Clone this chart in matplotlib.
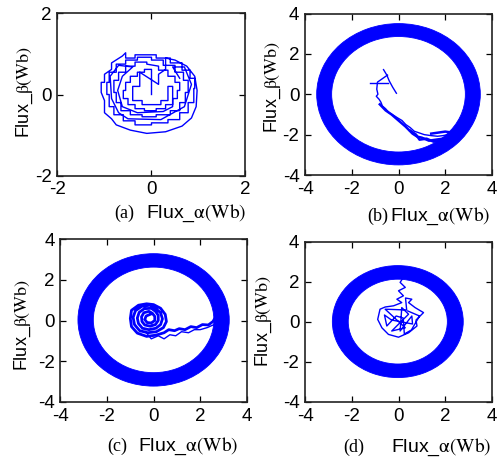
import matplotlib
matplotlib.use('Agg')
from matplotlib import pyplot as plt
from matplotlib.patches import Annulus
import numpy as np

plt.rcParams['font.family'] = ['Liberation Sans', 'DejaVu Sans']
plt.rcParams['mathtext.fontset'] = 'stix'
plt.rcParams['axes.unicode_minus'] = False

################ panel (a): flux trajectory (no steady ring) ################
flux_a = np.array([
    (0, 0), (0, 0.62), (-0.15, 0.62), (-0.15, 0.55), (-0.3, 0.55), (-0.3, 0.45), (-0.45, 0.45),
    (-0.45, 0.3), (-0.55, 0.3), (-0.55, 0.1), (-0.6, 0.1), (-0.6, -0.1), (-0.5, -0.1), (-0.5, -0.25),
    (-0.35, -0.25), (-0.35, -0.35), (-0.15, -0.35), (-0.15, -0.4), (0.1, -0.4), (0.1, -0.35),
    (0.3, -0.35), (0.3, -0.25), (0.45, -0.25), (0.45, -0.1), (0.55, -0.1), (0.55, 0.1), (0.6, 0.1),
    (0.6, 0.3), (0.5, 0.3), (0.5, 0.45), (0.35, 0.45), (0.35, 0.6), (0.15, 0.6), (0.15, 0.7),
    (-0.1, 0.75), (-0.1, 0.8), (-0.35, 0.8), (-0.35, 0.7), (-0.55, 0.7), (-0.55, 0.55), (-0.7, 0.55),
    (-0.7, 0.35), (-0.8, 0.35), (-0.8, 0.05), (-0.75, 0.05), (-0.75, -0.2), (-0.65, -0.2),
    (-0.65, -0.4), (-0.45, -0.4), (-0.45, -0.5), (-0.2, -0.5), (-0.2, -0.55), (0.1, -0.55),
    (0.1, -0.5), (0.4, -0.5), (0.4, -0.4), (0.6, -0.4), (0.6, -0.2), (0.72, -0.2), (0.72, 0.05),
    (0.78, 0.05), (0.78, 0.35), (0.68, 0.35), (0.68, 0.55), (0.5, 0.55), (0.5, 0.72), (0.25, 0.72),
    (0.25, 0.85), (0, 0.85), (0, 0.92), (-0.3, 0.92), (-0.3, 0.85), (-0.55, 0.85), (-0.55, 0.75),
    (-0.75, 0.75), (-0.75, 0.55), (-0.9, 0.55), (-0.9, 0.3), (-0.95, 0.3), (-0.95, 0.0), (-0.9, 0.0),
    (-0.9, -0.3), (-0.8, -0.3), (-0.8, -0.5), (-0.6, -0.5), (-0.6, -0.65), (-0.35, -0.65),
    (-0.35, -0.75), (0.0, -0.75), (0.0, -0.7), (0.35, -0.7), (0.35, -0.62), (0.6, -0.62),
    (0.6, -0.45), (0.78, -0.45), (0.78, -0.2), (0.9, -0.2), (0.9, 0.15), (0.92, 0.15), (0.92, 0.4),
    (0.82, 0.4), (0.82, 0.6), (0.65, 0.6), (0.65, 0.78), (0.4, 0.78), (0.4, 0.9), (0.1, 0.9),
    (0.1, 0.98), (-0.35, 0.98), (-0.35, 0.9), (-0.55, 0.9), (-0.55, 1.03), (-0.62, 0.95),
    (-0.85, 0.78), (-0.85, 0.62), (-1.0, 0.5), (-1.0, 0.3), (-1.07, 0.3), (-1.07, 0.05),
    (-1.0, -0.15), (-1.0, -0.45), (-0.85, -0.6), (-0.75, -0.75), (-0.45, -0.88), (-0.1, -0.96),
    (0.3, -0.92), (0.65, -0.78), (0.85, -0.58), (0.95, -0.3), (0.97, 0.1), (0.92, 0.45),
    (0.75, 0.7), (0.5, 0.85), (0.3, 0.9), (0.3, 0.62), (0.15, 0.5), (0.15, 0.25),
    (-0.25, 0.55), (-0.25, 0.2), (-0.4, 0.2), (-0.4, -0.15), (-0.2, -0.15), (-0.2, -0.25),
    (0.2, -0.25), (0.2, -0.15), (0.35, -0.15), (0.35, 0.2), (0.45, 0.2), (0.45, -0.3),
    (0.25, -0.42), (-0.3, -0.45), (-0.62, -0.3), (-0.72, 0.1), (-0.62, 0.45), (-0.4, 0.68),
    (-0.7, 0.72), (-0.88, 0.45), (-0.85, -0.1), (-0.7, -0.45), (-0.5, -0.6), (0.2, -0.62),
    (0.7, -0.3), (0.85, 0.25), (0.7, 0.68), (0.45, 0.68), (0.6, 0.4),
])

################ panel (b): ring plus start-up transient ################
ring_b = dict(center=(0.0, 0.0), outer=3.5, width=0.64)
flux_b_paths = [
    [(-0.09, 0.05), (-0.25, 0.35), (-0.4, 0.67), (-0.5, 0.95), (-0.64, 1.22)],
    [(-1.21, 0.58), (-0.47, 0.58)],
    [(-0.47, 0.95), (-0.9, 0.6), (-0.93, 0.25), (-0.88, 0.0), (-0.95, -0.1), (-0.83, -0.25),
     (-0.75, -0.4), (-0.69, -0.58), (-0.55, -0.72), (-0.4, -0.92), (-0.2, -1.05), (-0.04, -1.17),
     (0.15, -1.3), (0.31, -1.5), (0.5, -1.65), (0.67, -1.83), (0.85, -1.9), (1.1, -2.0),
     (1.4, -2.05), (1.67, -2.08), (1.9, -2.05), (2.1, -2.0), (2.4, -2.1)],
    [(-0.8, -0.5), (-0.55, -0.8), (-0.3, -1.0), (0.0, -1.3), (0.3, -1.6), (0.6, -1.95),
     (0.8, -2.1), (1.0, -2.15), (1.3, -2.3), (1.6, -2.25), (1.9, -2.2), (2.2, -2.25)],
    [(0.5, -1.8), (0.75, -2.0), (0.9, -2.25), (1.2, -2.2), (1.5, -2.35), (1.85, -2.3),
     (2.1, -2.35), (2.4, -2.3)],
    [(1.4, -1.95), (1.7, -1.9), (2.0, -1.85), (2.3, -1.9), (2.6, -2.0)],
]

################ panel (c): ring plus spiral transient ################
ring_c = dict(center=(0.0, 0.03), outer=3.25, width=0.66)
flux_c = np.array([
    (-0.15, 0.3), (-0.32, 0.22), (-0.38, 0.05), (-0.28, -0.1), (-0.1, -0.12), (0.05, 0.0),
    (0.05, 0.2), (-0.05, 0.35), (-0.2, 0.45), (-0.42, 0.38), (-0.52, 0.18), (-0.5, -0.05),
    (-0.38, -0.22), (-0.15, -0.28), (0.08, -0.2), (0.2, 0.0), (0.2, 0.25), (0.08, 0.45),
    (-0.1, 0.6), (-0.4, 0.58), (-0.62, 0.4), (-0.7, 0.12), (-0.65, -0.15), (-0.48, -0.38),
    (-0.2, -0.45), (0.1, -0.38), (0.3, -0.2), (0.38, 0.08), (0.3, 0.38), (0.1, 0.58),
    (-0.15, 0.75), (-0.5, 0.7), (-0.78, 0.48), (-0.88, 0.15), (-0.82, -0.2), (-0.6, -0.5),
    (-0.25, -0.6), (0.12, -0.55), (0.42, -0.35), (0.55, -0.05), (0.5, 0.3), (0.3, 0.6),
    (0.0, 0.78), (-0.3, 0.82), (-0.65, 0.75), (-0.95, 0.5), (-1.0, 0.1), (-0.95, -0.3),
    (-0.7, -0.62), (-0.3, -0.78), (0.1, -0.72), (0.45, -0.6), (0.65, -0.45), (0.9, -0.5),
    (1.1, -0.4), (1.35, -0.45), (1.6, -0.3), (1.85, -0.35), (2.1, -0.2), (2.35, -0.22),
    (2.55, -0.05), (2.65, 0.15),
])
flux_c_tail = np.array([
    (-0.3, -0.62), (-0.1, -0.9), (0.2, -0.75), (0.45, -0.9), (0.7, -0.7), (0.95, -0.75),
    (1.2, -0.55), (1.5, -0.6), (1.75, -0.45), (2.0, -0.45), (2.3, -0.35), (2.6, -0.2),
])

################ panel (d): ring plus tangled transient ################
ring_d = dict(center=(-0.03, 0.02), outer=2.8, width=0.68)
flux_d = np.array([
    (0.07, 2.74), (0.21, 2.24), (0.07, 1.98), (0.29, 1.73), (0.0, 1.56), (0.21, 1.31),
    (-0.07, 1.14), (0.14, 0.97), (-0.21, 0.81), (-0.57, 0.75), (-0.79, 0.64), (-0.89, 0.13),
    (-0.71, -0.29), (-0.43, -0.62), (0.0, -0.76), (0.43, -0.54), (0.79, -0.2), (0.75, 0.1),
    (1.07, 0.47), (0.71, 0.72), (0.43, 0.97), (0.57, 1.14), (0.3, 1.2), (0.35, 0.6),
    (-0.57, 0.64), (0.29, -0.29), (-0.29, -0.45), (0.43, 0.39), (0.14, 0.72), (0.07, -0.45),
    (0.57, 0.3), (0.6, -0.1), (-0.3, 0.1), (-0.6, 0.35), (-0.5, -0.2), (-0.1, 0.3),
    (0.2, 0.2), (0.25, -0.6), (0.55, -0.4), (0.9, 0.3), (0.4, 0.55),
])

################ labels ################
tick_a = [-2, 0, 2]
tick_bcd = [-4, -2, 0, 2, 4]
panel_tags = ['(a)', '(b)', '(c)', '(d)']
xlabel = r'Flux_$\mathrm{\alpha(Wb)}$'
ylabel = r'Flux_$\mathrm{\beta(Wb)}$'

blue = '#0000ff'
W, H = 502, 459
tick_size = 13.5
xlabel_size = 14
ylabel_size = 13

f = plt.figure(figsize=(W / 100, H / 100), dpi=100)


def px_axes(left, top, right, bottom):
    return f.add_axes([left / W, 1 - bottom / H, (right - left) / W, (bottom - top) / H])


def style(ax, ticks):
    ax.set_xlim(ticks[0], ticks[-1])
    ax.set_ylim(ticks[0], ticks[-1])
    ax.set_xticks(ticks)
    ax.set_yticks(ticks)
    ax.tick_params(direction='in', top=True, right=True, length=4, width=0.9,
                   labelsize=tick_size, pad=4)
    for s in ax.spines.values():
        s.set_linewidth(1.2)
        s.set_color('#222222')


def ring(ax, r):
    ax.add_patch(Annulus(r['center'], r['outer'], r['width'], facecolor=blue,
                         edgecolor=blue, linewidth=0.6))


ax_a = px_axes(57.5, 13.5, 245.5, 175.5)
ax_b = px_axes(305, 13.5, 492, 175)
ax_c = px_axes(60.5, 239, 246.7, 402)
ax_d = px_axes(305, 242, 492, 402)

ax_a.plot(flux_a[:, 0], flux_a[:, 1], color=blue, lw=1.0)
style(ax_a, tick_a)

ring(ax_b, ring_b)
for i, p in enumerate(flux_b_paths):
    p = np.array(p)
    ax_b.plot(p[:, 0], p[:, 1], color=blue, lw=1.0 if i < 3 else 1.8)
style(ax_b, tick_bcd)

ring(ax_c, ring_c)
ax_c.plot(flux_c[:, 0], flux_c[:, 1], color=blue, lw=2.0)
ax_c.plot(flux_c_tail[:, 0], flux_c_tail[:, 1], color=blue, lw=1.0)
style(ax_c, tick_bcd)

ring(ax_d, ring_d)
ax_d.plot(flux_d[:, 0], flux_d[:, 1], color=blue, lw=1.0)
style(ax_d, tick_bcd)

# y labels, rotated, centred at pixel positions
for (x, y) in [(25, 92), (273, 87), (23, 325), (264, 321)]:
    f.text(x / W, 1 - y / H, ylabel, rotation=90, ha='center', va='center',
           fontsize=ylabel_size)

# x labels with panel tags
for tag, (tx, fx, y) in zip(panel_tags, [(114, 146, 213), (367, 390, 216),
                                         (107, 138, 446), (343, 391, 447)]):
    f.text(tx / W, 1 - y / H, tag, ha='left', va='center', fontsize=ylabel_size,
           family='Liberation Serif')
    f.text(fx / W, 1 - y / H, xlabel, ha='left', va='center', fontsize=xlabel_size)

f.savefig('out.png', dpi=100)
